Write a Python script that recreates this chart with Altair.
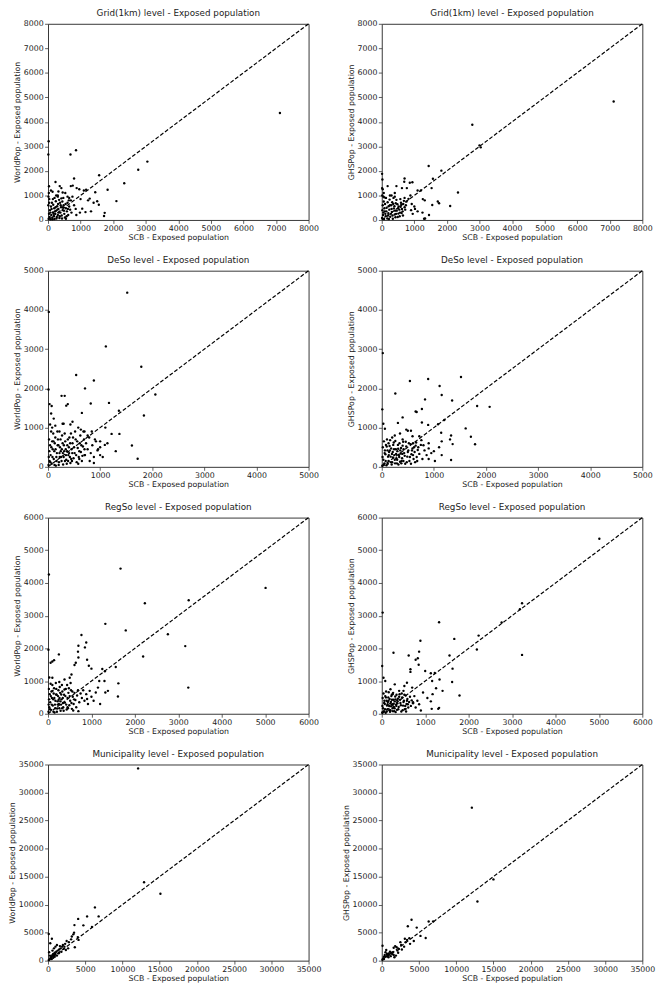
import altair as alt
import pandas as pd

# ---------------- data (SCB value, model value) ----------------
grid_worldpop = [
    (7120, 4360), (20, 3210), (10, 2670), (690, 2670), (860, 2840), (3050, 2380), (2770, 2050),
    (2340, 1495), (1830, 1230), (1570, 1825), (2100, 770), (800, 1690), (230, 1550), (30, 1375),
    (1740, 290), (1720, 160), (1560, 620), (1510, 760), (1450, 1130), (1170, 1230), (1100, 1200),
    (1320, 350), (1280, 870), (1230, 800), (1050, 460), (960, 1250), (880, 1300), (760, 1400),
    (700, 1380), (360, 1380), (410, 1300), (320, 1160), (450, 1120), (90, 1200), (140, 1150),
    (530, 1100), (1400, 700), (1150, 320), (980, 300), (870, 200), (550, 50), (1000, 850),
    (600, 950), (650, 900), (300, 1000),
    (20, 50), (50, 120), (80, 30), (100, 200), (130, 90), (150, 310), (180, 150), (200, 40),
    (220, 260), (250, 380), (270, 120), (300, 200), (320, 450), (350, 80), (380, 300), (400, 520),
    (420, 180), (450, 400), (480, 600), (500, 250), (520, 100), (550, 480), (580, 350), (600, 700),
    (620, 200), (650, 550), (680, 420), (700, 800), (720, 300), (60, 400), (90, 550), (120, 700),
    (40, 850), (160, 620), (190, 480), (240, 760), (280, 560), (310, 650), (340, 820), (370, 700),
    (410, 880), (440, 750), (470, 900), (30, 250), (70, 300), (110, 450), (140, 30), (170, 250),
    (210, 350), (230, 520), (260, 60), (290, 420), (330, 300), (360, 150), (390, 600), (430, 60),
    (460, 520), (490, 380), (540, 650), (570, 150), (610, 450), (640, 800), (10, 600), (15, 950),
    (25, 1100), (35, 700), (200, 900), (250, 1000), (150, 850), (300, 950), (800, 600), (850, 450),
    (750, 950),
]

grid_ghspop = [
    (7120, 4830), (2780, 3880), (3040, 2960), (3000, 3040), (1440, 2200), (1830, 2010), (1570, 1680),
    (1530, 1300), (2340, 1120), (2100, 570), (1550, 610), (1720, 750), (1760, 680), (1450, 200),
    (1300, 50), (1330, 60), (10, 1880), (20, 1650), (700, 1690), (690, 1560), (860, 1520),
    (940, 1540), (180, 1380), (450, 1380), (30, 1250), (1200, 1200), (1100, 1200), (1260, 850),
    (1320, 800), (1250, 300), (1100, 350), (920, 650), (770, 1300), (620, 1300), (50, 950),
    (80, 920), (400, 1100), (300, 1000), (1020, 450), (880, 1000), (700, 900),
    (10, 80), (40, 200), (70, 40), (90, 350), (120, 150), (150, 500), (170, 60), (200, 280),
    (230, 420), (260, 130), (290, 600), (310, 330), (340, 50), (370, 470), (400, 220), (430, 680),
    (460, 380), (490, 120), (520, 550), (560, 300), (590, 700), (620, 450), (650, 180), (680, 780),
    (30, 600), (60, 750), (100, 650), (130, 900), (180, 720), (210, 560), (240, 830), (280, 250),
    (320, 720), (360, 900), (390, 560), (420, 110), (450, 820), (480, 640), (510, 260), (540, 420),
    (570, 850), (600, 620), (640, 350), (700, 520), (740, 600), (20, 400), (50, 300), (80, 480),
    (110, 250), (140, 350), (190, 180), (220, 40), (250, 600), (300, 450), (330, 180), (350, 650),
    (410, 380), (440, 250), (500, 470), (550, 150), (580, 540), (610, 280), (660, 650), (720, 420),
    (760, 750), (820, 860), (900, 400), (950, 250), (1000, 550), (15, 1000), (60, 1100),
    (250, 1000), (400, 950), (10, 1300),
]

deso_worldpop = [
    (1520, 4440), (15, 3950), (1110, 3070), (1790, 2550), (540, 2340), (880, 2200), (710, 2000),
    (10, 1970), (260, 1810), (320, 1810), (2060, 1845), (380, 1600), (350, 1560), (820, 1615),
    (1170, 1630), (650, 1375), (1360, 1430), (1840, 1310), (1610, 545), (1720, 205), (1370, 840),
    (1220, 840), (1300, 400), (1140, 600), (1090, 560), (1100, 1000), (1000, 500), (950, 420),
    (800, 150), (880, 100), (30, 1600), (70, 1550), (60, 1360), (110, 1230), (40, 1080),
    (140, 1050), (280, 1100), (470, 1150), (430, 1080), (220, 900), (630, 950), (700, 900),
    (760, 800), (840, 900), (900, 700), (1000, 650), (580, 1000), (300, 1100), (80, 1000),
    (700, 300), (600, 200), (1050, 250),
    (10, 50), (30, 150), (50, 300), (70, 80), (90, 450), (110, 200), (130, 600), (150, 30),
    (170, 350), (190, 700), (210, 120), (230, 500), (250, 250), (270, 800), (290, 60), (310, 400),
    (330, 650), (350, 180), (370, 550), (390, 300), (410, 750), (430, 100), (450, 450), (470, 600),
    (490, 220), (510, 350), (530, 700), (550, 120), (570, 480), (590, 250), (610, 600), (630, 380),
    (650, 150), (670, 520), (690, 700), (710, 300), (730, 600), (760, 450), (790, 750), (820, 350),
    (850, 550), (880, 250), (920, 650), (960, 450), (1000, 300), (20, 700), (40, 550), (60, 900),
    (80, 650), (100, 850), (120, 400), (140, 750), (160, 250), (180, 900), (200, 550), (220, 350),
    (240, 700), (260, 150), (280, 600), (300, 250), (320, 850), (340, 450), (360, 80), (380, 700),
    (400, 500), (420, 250), (440, 850), (460, 150), (480, 750), (500, 500), (520, 900), (540, 300),
    (560, 650), (580, 80), (600, 400), (620, 800), (640, 550), (660, 280), (680, 900), (700, 450),
    (15, 250), (25, 400), (45, 120), (65, 500), (85, 250), (105, 650), (125, 50), (145, 450),
    (165, 150), (185, 550), (205, 50), (225, 250), (245, 400), (265, 450), (285, 350), (305, 550),
    (325, 150), (345, 300), (365, 400), (385, 150), (405, 350), (425, 600), (445, 200), (465, 350),
]

deso_ghspop = [
    (20, 2900), (10, 1466), (540, 2190), (890, 2240), (1520, 2290), (1110, 2060), (1150, 1830),
    (260, 1870), (830, 1720), (1350, 1690), (770, 1475), (650, 1410), (670, 1400), (400, 1260),
    (1830, 1550), (2070, 1530), (1200, 1195), (1080, 1087), (310, 1120), (30, 1100), (60, 970),
    (1140, 870), (1330, 800), (1360, 580), (1310, 700), (1610, 980), (1710, 766), (1790, 577),
    (1330, 173), (1150, 300), (1020, 150), (900, 200), (770, 1130), (890, 1070), (470, 950),
    (500, 920), (560, 920), (720, 780), (760, 680), (900, 600), (1000, 400), (1100, 500),
    (1150, 650), (800, 550), (600, 600), (400, 700), (250, 800), (200, 750), (350, 850),
    (130, 600), (590, 780),
    (10, 30), (30, 180), (50, 90), (70, 320), (90, 40), (110, 420), (130, 150), (150, 530),
    (170, 260), (190, 60), (210, 380), (230, 620), (250, 180), (270, 450), (290, 90), (310, 560),
    (330, 300), (350, 130), (370, 480), (390, 220), (410, 640), (430, 350), (450, 80), (470, 520),
    (490, 260), (510, 420), (530, 150), (550, 580), (570, 320), (590, 470), (610, 200), (630, 380),
    (650, 540), (670, 250), (690, 430), (720, 330), (750, 560), (780, 200), (820, 420), (860, 300),
    (900, 470), (950, 350), (20, 500), (40, 650), (60, 420), (80, 560), (100, 700), (120, 260),
    (140, 380), (160, 680), (180, 470), (200, 120), (220, 560), (240, 300), (260, 660), (280, 220),
    (300, 400), (320, 60), (340, 600), (360, 340), (380, 150), (400, 540), (420, 450), (440, 280),
    (460, 640), (480, 120), (500, 380), (520, 600), (540, 250), (560, 80), (580, 420), (600, 300),
    (620, 500), (640, 120), (660, 620), (680, 150), (700, 500), (15, 250), (35, 50), (55, 350),
    (75, 150), (95, 520), (115, 80), (135, 300), (155, 420), (175, 120), (195, 330), (215, 240),
    (235, 450), (255, 90), (275, 330), (295, 180), (315, 460), (335, 250), (355, 420), (375, 90),
    (395, 330), (415, 150),
]

regso_worldpop = [
    (5010, 3850), (1670, 4440), (20, 4260), (3240, 3470), (2230, 3380), (1320, 2750), (1790, 2550),
    (2760, 2430), (3160, 2070), (2190, 1750), (3230, 800), (770, 2410), (700, 2080), (880, 2180),
    (850, 2030), (690, 1900), (10, 1960), (250, 1815), (100, 1600), (140, 1640), (60, 1560),
    (610, 1490), (640, 1560), (700, 1720), (940, 1470), (1000, 1380), (900, 1650), (1250, 1370),
    (1310, 1300), (1560, 1430), (1620, 930), (1610, 530), (1320, 650), (1200, 300), (1380, 700),
    (1150, 800), (1050, 400), (900, 450), (1180, 1000), (1300, 1000), (1100, 650), (30, 1110),
    (100, 1100), (260, 970), (380, 1050), (500, 1100), (540, 1200), (700, 80), (450, 200),
    (10, 60), (30, 200), (50, 350), (70, 120), (90, 480), (110, 250), (130, 620), (150, 40),
    (170, 400), (190, 760), (210, 160), (230, 540), (250, 300), (270, 820), (290, 90), (310, 440),
    (330, 680), (350, 200), (370, 580), (390, 340), (410, 760), (430, 130), (450, 480), (470, 640),
    (490, 260), (510, 400), (530, 720), (550, 150), (570, 520), (590, 300), (610, 640), (630, 420),
    (650, 200), (670, 560), (690, 720), (720, 350), (750, 620), (780, 480), (810, 720), (840, 400),
    (880, 600), (920, 300), (960, 700), (1000, 520), (20, 760), (40, 600), (60, 920), (80, 680),
    (100, 880), (120, 440), (140, 780), (160, 280), (180, 940), (200, 580), (220, 380), (240, 720),
    (260, 170), (280, 640), (300, 280), (320, 880), (340, 480), (360, 90), (380, 740), (400, 540),
    (420, 280), (440, 880), (460, 170), (480, 780), (500, 540), (520, 940), (540, 330), (560, 680),
    (580, 100), (600, 440), (15, 280), (25, 440), (45, 140), (65, 540), (85, 280), (105, 700),
    (125, 60), (145, 480), (165, 170), (185, 590), (205, 60), (225, 280), (245, 430), (265, 480),
    (285, 380), (305, 590), (325, 170), (345, 330),
]

regso_ghspop = [
    (5010, 5355), (3230, 3380), (3180, 3200), (2760, 2790), (20, 3095), (1320, 2800), (1670, 2290),
    (2230, 2390), (2190, 1965), (3230, 1800), (890, 2235), (270, 1865), (1560, 1780), (1630, 1380),
    (1620, 970), (1790, 560), (1320, 180), (1300, 150), (620, 1780), (860, 1900), (830, 1700),
    (780, 1650), (850, 1500), (10, 1460), (40, 1100), (80, 1000), (660, 1360), (660, 1280),
    (1000, 1310), (1130, 1240), (1220, 1250), (1160, 1000), (1330, 1050), (1400, 700), (1250, 780),
    (1170, 600), (1050, 480), (1130, 380), (1150, 150), (950, 650), (900, 100), (720, 350),
    (550, 150), (700, 800), (580, 950), (520, 850), (500, 700), (300, 900), (400, 700), (200, 750),
    (250, 600),
    (10, 40), (30, 170), (50, 80), (70, 300), (90, 30), (110, 400), (130, 140), (150, 500),
    (170, 240), (190, 60), (210, 360), (230, 580), (250, 170), (270, 430), (290, 80), (310, 530),
    (330, 280), (350, 120), (370, 460), (390, 210), (410, 600), (430, 330), (450, 70), (470, 500),
    (490, 250), (510, 400), (530, 140), (550, 560), (570, 300), (590, 450), (610, 190), (630, 360),
    (650, 520), (670, 240), (690, 410), (720, 320), (750, 540), (780, 190), (820, 400), (860, 290),
    (20, 480), (40, 620), (60, 400), (80, 540), (100, 680), (120, 250), (140, 360), (160, 660),
    (180, 450), (200, 110), (220, 540), (240, 290), (260, 640), (280, 210), (300, 380), (320, 50),
    (340, 580), (360, 320), (380, 140), (400, 520), (420, 430), (440, 260), (460, 620), (480, 110),
    (500, 360), (520, 580), (540, 240), (560, 70), (580, 400), (600, 290), (15, 240), (35, 50),
    (55, 330), (75, 140), (95, 500), (115, 70), (135, 290), (155, 400), (175, 110), (195, 310),
    (215, 230), (235, 430), (255, 80), (275, 310), (295, 170), (315, 440), (335, 240), (355, 400),
]

muni_worldpop = [
    (12100, 34300), (12900, 14000), (15100, 11950), (6300, 9500), (6800, 7900), (4050, 7450),
    (5250, 7900), (4750, 6300), (3550, 6350), (5900, 6000), (100, 4750), (520, 3900), (300, 3100),
    (3200, 4300), (3100, 3800), (3500, 5000), (3400, 4700), (3600, 2400), (4100, 3700), (4000, 4200),
    (2500, 3500), (2300, 3000), (2000, 2800), (1900, 2500), (1700, 2200), (1500, 2000), (1200, 2800),
    (1000, 2500), (800, 2200), (1300, 1800), (1100, 1600), (900, 1400), (700, 1200), (600, 1000),
    (500, 800), (400, 600), (300, 400), (200, 200), (100, 100), (1600, 2600), (2100, 2100),
    (2400, 1900), (2700, 2200), (1800, 1600), (1400, 1300), (1200, 900), (900, 700), (700, 500),
    (500, 300), (800, 1000), (1000, 1200), (1500, 1400), (2200, 2500), (2800, 3300), (250, 900),
    (150, 1500), (600, 1800),
]

muni_ghspop = [
    (12100, 27300), (15000, 14500), (12850, 10550), (4000, 7300), (3500, 6150), (6300, 7000),
    (6900, 7000), (4700, 5900), (5200, 4420), (5900, 4050), (100, 2650), (3100, 3900), (3700, 4000),
    (3400, 3700), (4300, 3500), (3800, 3000), (3000, 2500), (2500, 3300), (2600, 2800), (2300, 2100),
    (2100, 1800), (1800, 2600), (1600, 2300), (1500, 1500), (1300, 1400), (1100, 1600), (900, 1300),
    (800, 1000), (600, 1900), (500, 1500), (400, 1000), (300, 700), (200, 400), (100, 200),
    (700, 800), (1000, 1100), (1200, 1300), (1400, 1200), (1700, 600), (1900, 900), (2000, 2400),
    (2200, 1400), (2700, 2000), (3200, 3300), (500, 700), (300, 300), (700, 1200), (900, 600),
    (1200, 800), (1600, 1000),
]

panel_titles = [
    "Grid(1km) level - Exposed population", "Grid(1km) level - Exposed population",
    "DeSo level - Exposed population", "DeSo level - Exposed population",
    "RegSo level - Exposed population", "RegSo level - Exposed population",
    "Municipality level - Exposed population", "Municipality level - Exposed population",
]
y_titles = ["WorldPop - Exposed population", "GHSPop - Exposed population"] * 4
x_title = "SCB - Exposed population"
axis_max = [8000, 8000, 5000, 5000, 6000, 6000, 35000, 35000]
axis_step = [1000, 1000, 1000, 1000, 1000, 1000, 5000, 5000]
panel_data = [grid_worldpop, grid_ghspop, deso_worldpop, deso_ghspop,
              regso_worldpop, regso_ghspop, muni_worldpop, muni_ghspop]

FONT = "DejaVu Sans"
TEXT = "#222222"


def make_panel(points, maxv, step, title, ytitle):
    df = pd.DataFrame(points, columns=["x", "y"])
    diag = pd.DataFrame({"x": [0, maxv], "y": [0, maxv]})
    ticks = list(range(0, maxv + 1, step))
    sc = alt.Scale(domain=[0, maxv], nice=False, zero=True)
    xa = alt.Axis(values=ticks, title=x_title, format="d", labelFlush=False,
                  labelOverlap=False, grid=False, tickCount=len(ticks))
    ya = alt.Axis(values=ticks, title=ytitle, format="d", labelFlush=False,
                  labelOverlap=False, grid=False, tickCount=len(ticks))
    pts = alt.Chart(df).mark_circle(size=6, color="black", opacity=1).encode(
        x=alt.X("x:Q", scale=sc, axis=xa),
        y=alt.Y("y:Q", scale=sc, axis=ya),
    )
    line = alt.Chart(diag).mark_line(color="black", strokeDash=[4, 2], strokeWidth=1.2).encode(
        x=alt.X("x:Q", scale=sc, axis=xa),
        y=alt.Y("y:Q", scale=sc, axis=ya),
    )
    return alt.layer(pts, line).properties(
        width=267, height=201,
        title=alt.TitleParams(title, fontSize=9, font=FONT, color=TEXT,
                              fontWeight="normal", offset=2),
    )


panels = [make_panel(panel_data[i], axis_max[i], axis_step[i], panel_titles[i], y_titles[i])
          for i in range(8)]

chart = alt.concat(*panels, columns=2, spacing={"row": 13, "column": 20}).properties(
    padding={"left": 0, "top": -12, "right": 0, "bottom": 0}
).configure_view(
    stroke="#333333", strokeWidth=1
).configure_axis(
    domain=False, tickColor="#333333", tickSize=3.5, tickWidth=0.8,
    labelFont=FONT, labelFontSize=8, labelColor=TEXT, labelPadding=1.5,
    titleFont=FONT, titleFontSize=8, titleColor=TEXT, titleFontWeight="normal",
    titlePadding=1.5,
)

chart.save("out.html", embed_options={"renderer": "svg", "actions": False})
